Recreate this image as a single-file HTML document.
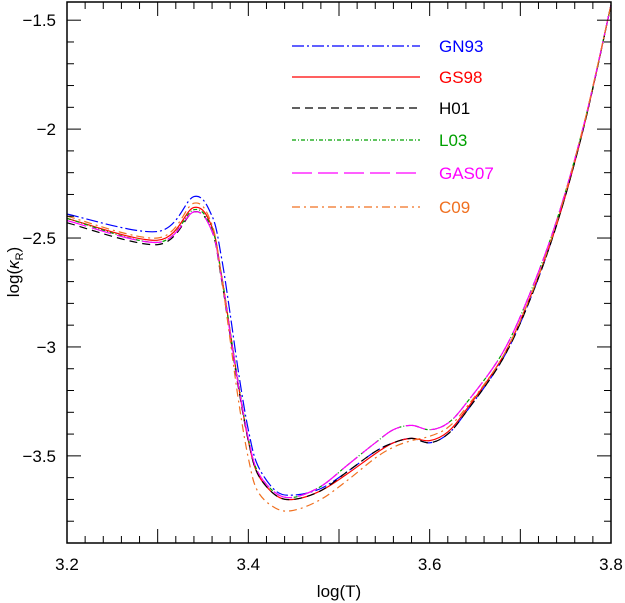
<!DOCTYPE html>
<html><head><meta charset="utf-8"><style>
body{margin:0;background:#fff}
svg{display:block}
text{font-family:"Liberation Sans",sans-serif}
</style></head><body>
<svg id="chart" width="625" height="603" viewBox="0 0 625 603" xmlns="http://www.w3.org/2000/svg">
<g id="plot"></g>
</svg>
<script>
const xs=[3.2,3.3,3.34,3.36,3.37,3.38,3.39,3.40,3.41,3.43,3.45,3.48,3.51,3.54,3.56,3.58,3.60,3.62,3.64,3.68,3.71,3.74,3.77,3.8];
const gn93=[-2.39,-2.47,-2.31,-2.40,-2.58,-2.85,-3.14,-3.38,-3.54,-3.66,-3.68,-3.65,-3.57,-3.48,-3.44,-3.42,-3.44,-3.40,-3.30,-3.06,-2.79,-2.44,-1.99,-1.43];
const gs98=[-2.41,-2.51,-2.36,-2.45,-2.66,-2.93,-3.20,-3.43,-3.58,-3.68,-3.70,-3.66,-3.58,-3.49,-3.44,-3.42,-3.43,-3.39,-3.29,-3.05,-2.78,-2.44,-1.99,-1.43];
const h01=[-2.43,-2.53,-2.38,-2.47,-2.68,-2.95,-3.21,-3.43,-3.58,-3.68,-3.70,-3.66,-3.57,-3.48,-3.44,-3.42,-3.44,-3.40,-3.30,-3.06,-2.79,-2.44,-1.99,-1.43];
const l03=[-2.41,-2.52,-2.37,-2.46,-2.66,-2.93,-3.19,-3.42,-3.57,-3.67,-3.69,-3.64,-3.54,-3.44,-3.38,-3.36,-3.38,-3.35,-3.26,-3.03,-2.76,-2.42,-1.98,-1.43];
const gas07=[-2.42,-2.52,-2.38,-2.47,-2.67,-2.94,-3.20,-3.42,-3.57,-3.67,-3.69,-3.64,-3.54,-3.44,-3.38,-3.36,-3.38,-3.35,-3.26,-3.03,-2.76,-2.42,-1.98,-1.43];
const c09=[-2.40,-2.50,-2.34,-2.44,-2.67,-2.97,-3.27,-3.51,-3.66,-3.74,-3.75,-3.70,-3.61,-3.51,-3.46,-3.43,-3.41,-3.37,-3.28,-3.05,-2.78,-2.43,-1.98,-1.43];
const xTicks=[3.2,3.4,3.6,3.8];
const yTicks=[-1.5,-2,-2.5,-3,-3.5];
const xTickLabels=["3.2","3.4","3.6","3.8"];
const yTickLabels=["−1.5","−2","−2.5","−3","−3.5"];
const seriesNames=["GN93","GS98","H01","L03","GAS07","C09"];

const L=67,R=611,T=2,B=543,X0=3.2,X1=3.8,Y0=-3.9,Y1=-1.4165;
const sx=v=>L+(v-X0)/(X1-X0)*(R-L);
const sy=v=>B-(v-Y0)/(Y1-Y0)*(B-T);
const NS="http://www.w3.org/2000/svg";
const g=document.getElementById('plot');
function mk(t,a,p){const e=document.createElementNS(NS,t);for(const k in a)e.setAttribute(k,a[k]);(p||g).appendChild(e);return e;}

const styles=[
 {c:"#0000ff",d:"12,3,2,3"},{c:"#ff0000",d:""},{c:"#000000",d:"8,5"},
 {c:"#00a000",d:"4,2,1,2"},{c:"#ff00ff",d:"20,6"},{c:"#f07020",d:"8,4,2,4"}];
const data=[gn93,gs98,h01,l03,gas07,c09];

function pathFor(ys){
 const p=xs.map((x,i)=>[sx(x),sy(ys[i])]);
 let d="M"+p[0][0].toFixed(1)+","+p[0][1].toFixed(1);
 for(let i=0;i<p.length-1;i++){
  const p0=p[Math.max(i-1,0)],p1=p[i],p2=p[i+1],p3=p[Math.min(i+2,p.length-1)];
  const c1=[p1[0]+(p2[0]-p0[0])/6,p1[1]+(p2[1]-p0[1])/6];
  const c2=[p2[0]-(p3[0]-p1[0])/6,p2[1]-(p3[1]-p1[1])/6];
  d+=" C"+c1.map(v=>v.toFixed(1))+" "+c2.map(v=>v.toFixed(1))+" "+p2.map(v=>v.toFixed(1));
 }
 return d;
}
data.forEach((ys,i)=>{
 const e=mk('path',{d:pathFor(ys),fill:"none",stroke:styles[i].c,"stroke-width":1.2,"stroke-dasharray":styles[i].d});
 
 
});

const fr=mk('rect',{x:L,y:T,width:R-L,height:B-T,fill:"none",stroke:"#000","stroke-width":1.5});



for(let v=3.2;v<=3.8001;v+=0.02){
 const major=Math.abs(v*10-Math.round(v*10))<1e-6;
 const len=major?14:7,x=sx(v);
 mk('line',{x1:x,y1:B,x2:x,y2:B-len,stroke:"#000"});
 mk('line',{x1:x,y1:T,x2:x,y2:T+len,stroke:"#000"});
}
for(let v=-3.9;v<=-1.41;v+=0.1){
 const major=Math.abs(v*2-Math.round(v*2))<1e-6;
 const len=major?14:7,y=sy(v);
 mk('line',{x1:L,y1:y,x2:L+len,y2:y,stroke:"#000"});
 mk('line',{x1:R,y1:y,x2:R-len,y2:y,stroke:"#000"});
}
xTicks.forEach((v,i)=>{
 const t=mk('text',{x:sx(v),y:570,"text-anchor":"middle","font-size":17});
 t.textContent=xTickLabels[i];
 
 
});
yTicks.forEach((v,i)=>{
 const t=mk('text',{x:56,y:sy(v)+6,"text-anchor":"end","font-size":17});
 t.textContent=yTickLabels[i];
 
 
});
const xt=mk('text',{x:339,y:597,"text-anchor":"middle","font-size":17,"font-family":"Liberation Serif, serif"});
xt.textContent="log(T)";


const yt=mk('text',{transform:"translate(19,272) rotate(-90)","text-anchor":"middle","font-size":17,"font-family":"Liberation Serif, serif"});
yt.innerHTML='log(<tspan font-style="italic">κ</tspan><tspan font-size="11" dy="4">R</tspan><tspan dy="-4">)</tspan>';



const ly=[46,77,108,140,173,207];
seriesNames.forEach((n,i)=>{
 const l=mk('line',{x1:292,y1:ly[i],x2:420,y2:ly[i],stroke:styles[i].c,"stroke-width":1.2,"stroke-dasharray":styles[i].d});
 
 
 const t=mk('text',{x:439,y:ly[i]+6,"font-size":17,fill:styles[i].c});
 t.textContent=n;
 
 
});
</script>
</body></html>
